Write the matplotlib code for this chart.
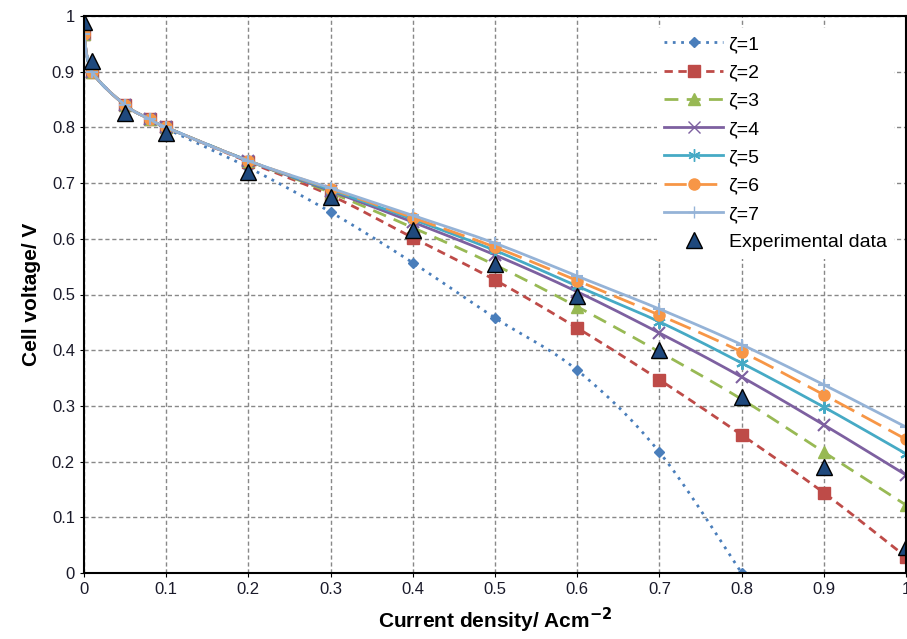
import numpy as np
import matplotlib.pyplot as plt
from matplotlib.lines import Line2D

plt.rcParams['font.family'] = ['Liberation Sans', 'DejaVu Sans']

# current density (A/cm2)
x = [0, 0.01, 0.05, 0.08, 0.1, 0.2, 0.3, 0.4, 0.5, 0.6, 0.7, 0.8, 0.9, 1.0]

z1 = [0.967, 0.90, 0.84, 0.815, 0.798, 0.728, 0.648, 0.557, 0.458, 0.364, 0.217, 0.0, None, None]
z2 = [0.967, 0.90, 0.84, 0.815, 0.800, 0.738, 0.678, 0.602, 0.526, 0.440, 0.347, 0.248, 0.144, 0.029]
z3 = [0.967, 0.90, 0.84, 0.815, 0.800, 0.740, 0.683, 0.620, 0.553, 0.478, 0.397, 0.312, 0.217, 0.122]
z4 = [0.967, 0.90, 0.84, 0.815, 0.800, 0.740, 0.686, 0.630, 0.571, 0.505, 0.431, 0.352, 0.266, 0.176]
z5 = [0.967, 0.90, 0.84, 0.815, 0.800, 0.740, 0.688, 0.635, 0.579, 0.515, 0.451, 0.377, 0.298, 0.214]
z6 = [0.967, 0.90, 0.84, 0.815, 0.800, 0.740, 0.690, 0.638, 0.585, 0.525, 0.463, 0.397, 0.320, 0.240]
z7 = [0.967, 0.90, 0.84, 0.815, 0.800, 0.740, 0.691, 0.642, 0.592, 0.533, 0.474, 0.410, 0.338, 0.262]

x_exp = [0, 0.01, 0.05, 0.1, 0.2, 0.3, 0.4, 0.5, 0.6, 0.7, 0.8, 0.9, 1.0]
v_exp = [0.99, 0.92, 0.826, 0.79, 0.72, 0.675, 0.615, 0.555, 0.497, 0.40, 0.316, 0.19, 0.047]

labels = ['ζ=1', 'ζ=2', 'ζ=3', 'ζ=4', 'ζ=5', 'ζ=6', 'ζ=7']
colors = ['#4A7EBB', '#BE4B48', '#98B954', '#7D60A0', '#46AAC5', '#F79646', '#95B3D7']
styles = [(0, (1, 2)), (0, (3, 2)), (0, (5, 3)), '-', '-', (0, (8, 3)), '-']
markers = ['D', 's', '^', 'x', (6, 2, 0), 'o', '+']
msizes = [5, 8, 8, 8, 9, 8, 9]


def smooth(xs, ys, n=12):
    # Excel-like smoothed line (Catmull-Rom through the points)
    xs = np.asarray(xs, float)
    ys = np.asarray(ys, float)
    ok = ~np.isnan(ys)
    p = np.column_stack([xs[ok], ys[ok]])
    p = np.vstack([p[0], p, p[-1]])
    out = []
    t = np.linspace(0, 1, n, endpoint=False)[:, None]
    for i in range(1, len(p) - 2):
        p0, p1, p2, p3 = p[i - 1], p[i], p[i + 1], p[i + 2]
        seg = 0.5 * ((2 * p1) + (-p0 + p2) * t + (2 * p0 - 5 * p1 + 4 * p2 - p3) * t ** 2
                     + (-p0 + 3 * p1 - 3 * p2 + p3) * t ** 3)
        out.append(seg)
    out.append(p[-2][None, :])
    out = np.vstack(out)
    return out[:, 0], out[:, 1]


fig = plt.figure(figsize=(9.07, 6.39), dpi=100)
ax = fig.add_axes([84/907, 66/639, 822/907, 557/639])

handles = []
for ys, lab, c, ls, m, ms in zip([z1, z2, z3, z4, z5, z6, z7], labels, colors, styles, markers, msizes):
    yv = np.array([np.nan if a is None else a for a in ys], dtype=float)
    sx, sy = smooth(x, yv)
    ax.plot(sx, sy, color=c, ls=ls, lw=2)
    ax.plot(x, yv, ls='none', marker=m, ms=ms, color=c, mew=1.5 if m in ('x', '+') or isinstance(m, tuple) else 1)
    handles.append(Line2D([], [], color=c, ls=ls, lw=2, marker=m, ms=ms, label=lab))

ax.plot(x_exp, v_exp, ls='none', marker='^', ms=11, color='#1F497D',
        markeredgecolor='black', markeredgewidth=1)
handles.append(Line2D([], [], ls='none', marker='^', ms=11, color='#1F497D',
                      markeredgecolor='black', label='Experimental data'))

ax.set_xlim(0, 1)
ax.set_ylim(0, 1)
ax.set_xticks(np.arange(0, 1.01, 0.1))
ax.set_yticks(np.arange(0, 1.01, 0.1))
ax.set_xticklabels(['0', '0.1', '0.2', '0.3', '0.4', '0.5', '0.6', '0.7', '0.8', '0.9', '1'])
ax.set_yticklabels(['0', '0.1', '0.2', '0.3', '0.4', '0.5', '0.6', '0.7', '0.8', '0.9', '1'])
ax.tick_params(labelsize=12, length=3, labelcolor='#1a1a2a')
ax.grid(True, ls=(0, (3, 2)), color='#888888', lw=1)
ax.set_axisbelow(True)
for s in ax.spines.values():
    s.set_color('black')
    s.set_linewidth(1.5)

ax.set_xlabel('Current density/ Acm$^{\\mathbf{-2}}$', fontsize=15, fontweight='bold', labelpad=6)
ax.set_ylabel('Cell voltage/ V', fontsize=15, fontweight='bold', labelpad=8)

ax.legend(handles=handles, loc='upper right', fontsize=14, frameon=True, fancybox=False,
          edgecolor='none', framealpha=1, handlelength=3.0, labelspacing=0.55,
          borderaxespad=0.6, handletextpad=0.3)

fig.savefig('out.png', dpi=100)
